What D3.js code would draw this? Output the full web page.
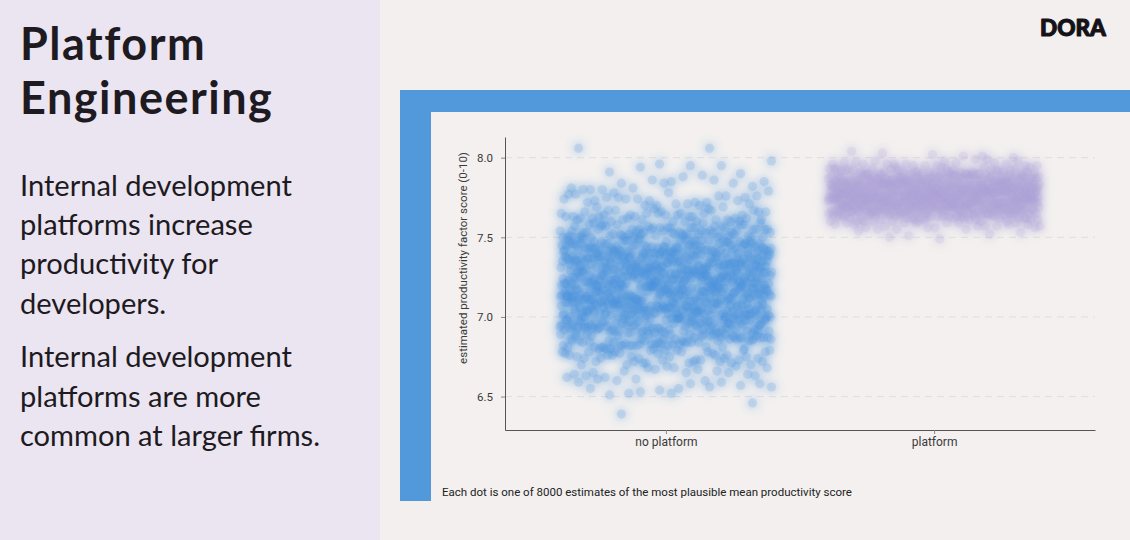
<!DOCTYPE html>
<html><head><meta charset="utf-8">
<script src="https://cdn.jsdelivr.net/npm/d3@7"></script>
<style>html,body{margin:0;padding:0;background:#f2efee;}svg{display:block;}</style>
</head><body>
<svg id="c" width="1130" height="540"></svg>
<script>
const categories = ["no platform", "platform"];
const yTicks = [6.5, 7.0, 7.5, 8.0];
const titleLines = ["Platform", "Engineering"];
const bodyLines1 = ["Internal development", "platforms increase", "productivity for", "developers."];
const bodyLines2 = ["Internal development", "platforms are more", "common at larger firms."];
const yLabel = "estimated productivity factor score (0-10)";
const footnote = "Each dot is one of 8000 estimates of the most plausible mean productivity score";
const logo = "DORA";

// estimated scores, no platform (read as a distribution from the picture)
const noPlatformScores = [
6.39,6.46,
6.52,6.55,6.59,6.53,6.56,6.58,6.51,6.57,6.54,6.59,6.56,6.52,6.58,6.55,
6.61,6.65,6.68,6.62,6.67,6.60,6.64,6.69,6.63,6.66,6.61,6.68,6.65,6.62,6.69,6.67,6.64,6.60,6.66,6.63,6.68,6.65,
6.74,6.71,6.78,6.72,6.76,6.79,6.73,6.70,6.77,6.75,6.72,6.78,6.74,6.71,6.79,6.76,6.73,6.77,6.70,6.75,
6.78,6.72,6.74,6.79,6.71,6.76,6.73,6.77,6.75,6.78,6.70,6.74,6.79,6.72,6.76,6.71,6.77,6.73,6.78,6.75,
6.79,6.74,6.76,6.72,6.78,
6.84,6.81,6.87,6.80,6.85,6.89,6.82,6.86,6.83,6.88,6.81,6.86,6.89,6.84,6.80,6.87,6.83,6.85,6.88,6.82,
6.87,6.83,6.80,6.86,6.89,6.81,6.84,6.88,6.85,6.82,6.89,6.85,6.82,6.87,6.84,6.80,6.86,6.83,6.88,6.81,
6.83,6.88,6.86,6.81,6.89,6.85,6.82,6.87,6.84,6.80,6.86,6.84,6.89,6.82,6.87,6.85,6.81,6.88,6.83,6.86,
6.88,6.82,6.85,6.89,6.84,6.87,6.83,6.86,6.89,6.85,6.87,6.84,
6.93,6.97,6.90,6.95,6.99,6.92,6.96,6.91,6.98,6.94,6.96,6.91,6.98,6.93,6.90,6.95,6.99,6.94,6.97,6.92,
6.90,6.94,6.97,6.99,6.92,6.96,6.93,6.98,6.91,6.95,6.98,6.92,6.95,6.91,6.97,6.94,6.90,6.96,6.99,6.93,
6.95,6.99,6.93,6.96,6.91,6.98,6.92,6.94,6.90,6.97,6.91,6.96,6.94,6.98,6.93,6.90,6.97,6.95,6.92,6.99,
6.97,6.93,6.99,6.92,6.95,6.91,6.98,6.90,6.94,6.96,6.94,6.98,6.91,6.97,6.99,6.93,6.95,6.92,6.96,6.90,
6.99,6.95,6.92,6.90,6.94,6.97,6.91,6.96,6.93,6.98,6.92,6.97,6.95,6.99,6.93,6.96,6.94,6.98,
7.04,7.08,7.01,7.06,7.03,7.09,7.00,7.05,7.07,7.02,7.07,7.02,7.05,7.09,7.01,7.04,7.08,7.03,7.00,7.06,
7.01,7.06,7.09,7.03,7.07,7.00,7.05,7.02,7.08,7.04,7.09,7.03,7.07,7.00,7.05,7.08,7.02,7.06,7.04,7.01,
7.05,7.00,7.03,7.08,7.02,7.06,7.09,7.04,7.01,7.07,7.02,7.07,7.04,7.01,7.09,7.03,7.06,7.08,7.05,7.00,
7.08,7.04,7.00,7.07,7.06,7.01,7.03,7.09,7.02,7.05,7.03,7.09,7.06,7.02,7.04,7.07,7.00,7.01,7.08,7.05,
7.06,7.01,7.08,7.05,7.00,7.02,7.07,7.04,7.09,7.03,7.00,7.05,7.02,7.04,7.08,7.09,7.01,7.06,7.03,7.07,
7.07,7.03,7.09,7.06,7.01,7.05,7.08,7.00,7.04,7.02,7.04,7.08,7.01,7.06,7.03,7.09,7.05,
7.13,7.17,7.10,7.15,7.19,7.12,7.16,7.11,7.18,7.14,7.16,7.11,7.18,7.13,7.10,7.15,7.19,7.14,7.17,7.12,
7.10,7.14,7.17,7.19,7.12,7.16,7.13,7.18,7.11,7.15,7.18,7.12,7.15,7.11,7.17,7.14,7.10,7.16,7.19,7.13,
7.15,7.19,7.13,7.16,7.11,7.18,7.12,7.14,7.10,7.17,7.11,7.16,7.14,7.18,7.13,7.10,7.17,7.15,7.12,7.19,
7.17,7.13,7.19,7.12,7.15,7.11,7.18,7.10,7.14,7.16,7.14,7.18,7.11,7.17,7.19,7.13,7.15,7.12,7.16,7.10,
7.19,7.15,7.12,7.10,7.14,7.17,7.11,7.16,7.13,7.18,7.12,7.17,7.15,7.19,7.13,7.16,7.14,7.18,7.10,7.11,
7.16,7.10,7.13,7.18,7.12,7.19,7.15,7.11,7.17,7.14,7.18,7.14,7.16,7.11,7.19,7.13,7.10,7.17,7.12,7.15,
7.13,7.19,7.11,7.16,
7.25,7.21,7.28,7.23,7.20,7.26,7.29,7.22,7.27,7.24,7.22,7.27,7.24,7.29,7.21,7.25,7.20,7.28,7.23,7.26,
7.28,7.20,7.26,7.22,7.24,7.29,7.23,7.21,7.25,7.27,7.21,7.24,7.29,7.26,7.27,7.20,7.22,7.25,7.28,7.23,
7.26,7.29,7.23,7.20,7.25,7.28,7.21,7.27,7.24,7.22,7.24,7.22,7.20,7.27,7.28,7.23,7.26,7.29,7.21,7.25,
7.27,7.25,7.21,7.24,7.22,7.26,7.28,7.20,7.29,7.23,7.20,7.28,7.25,7.21,7.29,7.24,7.27,7.23,7.26,7.22,
7.23,7.26,7.27,7.28,7.20,7.22,7.25,7.24,7.21,7.29,7.29,7.23,7.22,7.25,7.26,7.21,7.24,7.27,7.20,7.28,
7.26,7.21,7.28,7.23,7.24,7.27,7.29,7.22,7.25,7.20,7.22,7.27,7.24,7.29,7.21,7.25,7.20,7.28,7.23,7.26,
7.25,7.20,7.28,7.24,
7.36,7.32,7.39,7.30,7.34,7.37,7.31,7.35,7.38,7.33,7.31,7.37,7.33,7.36,7.39,7.34,7.30,7.38,7.32,7.35,
7.38,7.34,7.30,7.32,7.35,7.31,7.36,7.33,7.39,7.37,7.33,7.39,7.35,7.38,7.30,7.36,7.32,7.37,7.34,7.31,
7.35,7.30,7.38,7.34,7.31,7.33,7.39,7.32,7.37,7.36,7.37,7.33,7.31,7.39,7.36,7.38,7.34,7.30,7.35,7.32,
7.32,7.36,7.34,7.31,7.37,7.35,7.38,7.39,7.30,7.33,7.39,7.35,7.37,7.33,7.32,7.30,7.31,7.34,7.36,7.38,
7.30,7.38,7.36,7.35,7.33,7.32,7.37,7.31,7.39,7.34,7.34,7.31,7.32,7.37,7.38,7.39,7.35,7.36,7.33,7.30,
7.36,7.32,7.39,7.30,7.34,7.37,7.31,7.35,7.38,7.33,7.31,7.37,7.33,7.36,7.30,7.34,7.32,
7.43,7.47,7.40,7.45,7.41,7.48,7.42,7.46,7.44,7.49,7.41,7.45,7.43,7.40,7.47,7.42,7.44,7.46,7.48,7.41,
7.46,7.40,7.44,7.42,7.49,7.43,7.45,7.41,7.47,7.40,7.42,7.48,7.41,7.46,7.43,7.40,7.47,7.44,7.45,7.42,
7.44,7.41,7.47,7.43,7.40,7.45,7.42,7.49,7.46,7.43,7.40,7.46,7.42,7.48,7.44,7.41,7.43,7.47,7.40,7.45,
7.47,7.43,7.45,7.41,7.46,7.42,7.40,7.44,7.48,7.42,7.45,7.40,7.48,7.44,7.42,7.47,7.41,7.43,7.46,7.49,
7.41,7.44,7.46,7.40,7.43,7.45,7.42,7.48,7.41,7.44,7.43,7.47,7.40,7.42,7.45,7.41,7.46,7.44,
7.53,7.57,7.50,7.55,7.51,7.58,7.52,7.56,7.54,7.59,7.51,7.55,7.53,7.50,7.57,7.52,7.54,7.56,7.51,7.58,
7.56,7.50,7.54,7.52,7.59,7.53,7.55,7.51,7.57,7.50,7.52,7.58,7.51,7.56,7.53,7.50,7.54,7.55,7.52,7.57,
7.54,7.51,7.57,7.53,7.50,7.55,7.52,7.59,7.56,7.53,7.50,7.56,7.52,7.58,7.54,7.51,7.53,7.55,7.50,7.52,
7.57,7.53,7.55,7.51,7.54,7.52,7.50,7.56,7.58,7.51,7.55,7.53,
7.63,7.67,7.60,7.65,7.61,7.68,7.62,7.66,7.64,7.69,7.61,7.65,7.63,7.60,7.67,7.62,7.64,7.66,7.61,7.63,
7.66,7.60,7.64,7.62,7.68,7.63,7.65,7.61,7.67,7.60,7.62,7.69,7.61,7.65,7.63,7.60,7.64,7.66,7.62,7.67,
7.64,7.61,7.65,7.63,7.60,
7.73,7.77,7.70,7.75,7.71,7.78,7.72,7.76,7.74,7.79,7.71,7.75,7.73,7.70,7.77,7.72,7.74,7.76,7.71,7.73,
7.76,7.70,7.74,7.72,7.78,7.75,
7.84,7.80,7.86,7.81,7.85,7.88,7.80,7.84,7.86,7.81,7.89,7.84,7.82,7.85,7.80,
7.95,7.94,7.98,7.95,7.91,7.90,7.96,
8.06,8.06
];

// estimated scores, platform
const platformScores = [
7.50,7.53,7.49,7.54,7.52,7.51,
7.57,7.59,7.55,7.58,7.56,7.59,7.57,7.55,7.58,7.59,7.56,7.57,7.59,7.58,7.55,7.57,7.59,7.56,7.58,7.57,7.59,7.56,
7.62,7.60,7.64,7.61,7.63,7.64,7.60,7.62,7.63,7.61,7.64,7.62,7.60,7.63,7.61,7.64,7.63,7.62,7.60,7.64,
7.61,7.63,7.64,7.62,7.60,7.63,7.61,7.64,7.62,7.63,7.60,7.64,7.62,7.61,7.63,7.64,7.60,7.62,7.64,7.61,
7.63,7.62,7.64,7.60,7.63,7.61,7.64,7.62,
7.67,7.65,7.69,7.66,7.68,7.65,7.67,7.69,7.66,7.68,7.69,7.66,7.68,7.65,7.67,7.68,7.66,7.69,7.67,7.65,
7.66,7.68,7.65,7.67,7.69,7.66,7.68,7.65,7.69,7.67,7.68,7.65,7.67,7.69,7.66,7.67,7.69,7.68,7.65,7.66,
7.65,7.69,7.66,7.68,7.67,7.69,7.65,7.66,7.68,7.67,7.69,7.67,7.68,7.66,7.65,7.68,7.67,7.69,7.66,7.65,
7.66,7.68,7.69,7.65,7.67,7.66,7.68,7.65,7.69,7.67,7.68,7.66,7.65,7.67,7.69,7.68,7.66,7.67,7.65,7.69,
7.72,7.70,7.74,7.71,7.73,7.70,7.72,7.74,7.71,7.73,7.74,7.71,7.73,7.70,7.72,7.73,7.71,7.74,7.72,7.70,
7.71,7.73,7.70,7.72,7.74,7.71,7.73,7.70,7.74,7.72,7.73,7.70,7.72,7.74,7.71,7.72,7.74,7.73,7.70,7.71,
7.70,7.74,7.71,7.73,7.72,7.74,7.70,7.71,7.73,7.72,7.74,7.72,7.73,7.71,7.70,7.73,7.72,7.74,7.71,7.70,
7.71,7.73,7.74,7.70,7.72,7.71,7.73,7.70,7.74,7.72,7.73,7.71,7.70,7.72,7.74,7.73,7.71,7.72,7.70,7.74,
7.72,7.74,7.70,7.73,7.71,7.70,7.72,7.74,7.71,7.73,7.70,7.73,7.71,7.74,7.72,7.71,7.74,7.70,7.72,7.73,
7.77,7.75,7.79,7.76,7.78,7.75,7.77,7.79,7.76,7.78,7.79,7.76,7.78,7.75,7.77,7.78,7.76,7.79,7.77,7.75,
7.76,7.78,7.75,7.77,7.79,7.76,7.78,7.75,7.79,7.77,7.78,7.75,7.77,7.79,7.76,7.77,7.79,7.78,7.75,7.76,
7.75,7.79,7.76,7.78,7.77,7.79,7.75,7.76,7.78,7.77,7.79,7.77,7.78,7.76,7.75,7.78,7.77,7.79,7.76,7.75,
7.76,7.78,7.79,7.75,7.77,7.76,7.78,7.75,7.79,7.77,7.78,7.76,7.75,7.77,7.79,7.78,7.76,7.77,7.75,7.79,
7.77,7.79,7.75,7.78,7.76,7.75,7.77,7.79,7.76,7.78,7.75,7.78,7.76,7.79,7.77,7.76,7.79,7.75,7.77,7.78,
7.76,7.79,7.77,7.75,7.78,7.77,
7.82,7.80,7.84,7.81,7.83,7.80,7.82,7.84,7.81,7.83,7.84,7.81,7.83,7.80,7.82,7.83,7.81,7.84,7.82,7.80,
7.81,7.83,7.80,7.82,7.84,7.81,7.83,7.80,7.84,7.82,7.83,7.80,7.82,7.84,7.81,7.82,7.84,7.83,7.80,7.81,
7.80,7.84,7.81,7.83,7.82,7.84,7.80,7.81,7.83,7.82,7.84,7.82,7.83,7.81,7.80,7.83,7.82,7.84,7.81,7.80,
7.81,7.83,7.84,7.80,7.82,7.81,7.83,7.80,7.84,7.82,7.83,7.81,7.80,7.82,7.84,7.83,7.81,7.82,7.80,7.84,
7.82,7.84,7.80,7.83,7.81,7.80,7.82,7.84,7.81,7.83,7.80,7.83,7.81,7.84,7.82,7.81,
7.87,7.85,7.89,7.86,7.88,7.85,7.87,7.89,7.86,7.88,7.89,7.86,7.88,7.85,7.87,7.88,7.86,7.89,7.87,7.85,
7.86,7.88,7.85,7.87,7.89,7.86,7.88,7.85,7.89,7.87,7.88,7.85,7.87,7.89,7.86,7.87,7.89,7.88,7.85,7.86,
7.85,7.89,7.86,7.88,7.87,7.89,7.85,7.86,7.88,7.87,7.89,7.87,7.88,7.86,7.85,7.88,7.87,7.89,7.86,7.85,
7.86,7.88,7.87,7.85,7.86,7.88,7.85,7.87,7.86,7.88,7.85,7.87,7.86,7.85,
7.92,7.90,7.94,7.91,7.93,7.90,7.92,7.91,7.93,7.90,7.91,7.93,7.90,7.92,7.94,7.91,7.90,7.92,7.93,7.91,
7.90,7.92,7.91,7.93,7.90,7.94,7.91,7.92,7.90,7.93,7.91,7.90,7.92,7.91,7.93,7.90,7.92,7.94,7.91,7.90,
7.92,7.91,7.93,7.90,
7.96,7.98,7.95,7.97,7.99,7.96,7.95,7.97,7.98,7.96,7.95,7.97,7.99,7.96,7.95,7.98,7.96,7.97,7.95,7.96,
8.01,8.03,8.00,8.02,8.04,8.01
];

const W = 1130, H = 540;
const svg = d3.select("#c");
const chartFont = "Roboto, 'Noto Sans', sans-serif";
const slideFont = "Lato, 'Open Sans', sans-serif";

const defs = svg.append("defs");
defs.append("filter").attr("id", "soft")
  .attr("x", "-20%").attr("y", "-20%").attr("width", "140%").attr("height", "140%")
  .append("feGaussianBlur").attr("stdDeviation", 4);

// backgrounds
svg.append("rect").attr("width", W).attr("height", H).attr("fill", "#f2efee");
svg.append("rect").attr("width", 380).attr("height", H).attr("fill", "#eae5f0");
svg.append("rect").attr("x", 431).attr("y", 112).attr("width", W - 431).attr("height", 389).attr("fill", "#f3f0ef");
svg.append("rect").attr("x", 400).attr("y", 90).attr("width", W - 400).attr("height", 22).attr("fill", "#5299dc");
svg.append("rect").attr("x", 400).attr("y", 90).attr("width", 31).attr("height", 411).attr("fill", "#5299dc");

function textWidth(text, family, weight, size, spacing) {
  const t = svg.append("text").attr("font-family", family).attr("font-weight", weight)
    .attr("font-size", size).attr("letter-spacing", spacing || 0).text(text);
  const w = t.node().getComputedTextLength();
  t.remove();
  return w;
}
function fitSize(text, family, weight, target) {
  return 100 * target / textWidth(text, family, weight, 100, 0);
}

// left panel title: size chosen so the two line boxes do not overlap,
// width brought closer to the reference with a little letter spacing
const titleSize = 45;
const titleW = textWidth("Engineering", slideFont, 700, titleSize, 0);
const titleSpacing = Math.max(0, (270 - titleW) / 22);
svg.append("g").selectAll("text").data(titleLines).join("text")
  .attr("x", 20).attr("y", (d, i) => 59.5 + i * 54.5)
  .attr("font-family", slideFont).attr("font-weight", 700)
  .attr("font-size", titleSize).attr("letter-spacing", titleSpacing)
  .attr("fill", "#1e1a22").text(d => d);

const bodySize = fitSize("Internal development", slideFont, 400, 272);
svg.append("text").attr("font-family", slideFont).attr("font-size", bodySize).attr("fill", "#1e1a22")
  .selectAll("tspan").data(bodyLines1).join("tspan")
  .attr("x", 20).attr("y", (d, i) => 196 + i * 39.2).text(d => d);
svg.append("text").attr("font-family", slideFont).attr("font-size", bodySize).attr("fill", "#1e1a22")
  .selectAll("tspan").data(bodyLines2).join("tspan")
  .attr("x", 20).attr("y", (d, i) => 367 + i * 39.5).text(d => d);

// logo
const logoSize = fitSize(logo, slideFont, 900, 66);
svg.append("text").attr("x", 1040).attr("y", 36).attr("font-family", slideFont)
  .attr("font-weight", 900).attr("font-size", logoSize).attr("fill", "#141218")
  .attr("stroke", "#141218").attr("stroke-width", 1.1).attr("stroke-linejoin", "round").text(logo);

// chart
const y = d3.scaleLinear().domain([6.29, 8.13]).range([430, 137]);
const x = d3.scalePoint().domain(categories).range([505, 1095]).padding(0.6);
const jitter = d3.scaleLinear().domain([0, 1]).range([-106, 106]);
const phi = 0.6180339887;

svg.append("g").selectAll("line").data(yTicks).join("line")
  .attr("x1", 505).attr("x2", 1095)
  .attr("y1", d => y(d)).attr("y2", d => y(d))
  .attr("stroke", "#e2dddc").attr("stroke-width", 1).attr("stroke-dasharray", "7,5");

const groups = [
  { cat: categories[0], scores: noPlatformScores, color: "#4691dc", under: 0.3, top: 0.18 },
  { cat: categories[1], scores: platformScores, color: "#aca3d6", under: 0.3, top: 0.15 }
];
const cx = g => (d, i) => x(g.cat) + jitter((i * phi + 0.29) % 1);
groups.forEach(g => {
  // soft density layer from the same dots
  svg.append("g").attr("filter", "url(#soft)")
    .selectAll("circle").data(g.scores).join("circle")
    .attr("cx", cx(g)).attr("cy", d => y(d)).attr("r", 6)
    .attr("fill", g.color).attr("fill-opacity", g.under);
  // crisp dots
  svg.append("g").selectAll("circle").data(g.scores).join("circle")
    .attr("cx", cx(g)).attr("cy", d => y(d)).attr("r", 4.6)
    .attr("fill", g.color).attr("fill-opacity", g.top);
});

const ya = svg.append("g").attr("transform", "translate(505,0)")
  .call(d3.axisLeft(y).tickValues(yTicks).tickFormat(d3.format(".1f")).tickSize(4).tickSizeOuter(0).tickPadding(8));
const xa = svg.append("g").attr("transform", "translate(0,430)")
  .call(d3.axisBottom(x).tickSize(4).tickSizeOuter(0).tickPadding(3));
[ya, xa].forEach(a => {
  a.select(".domain").attr("stroke", "#555");
  a.selectAll(".tick line").attr("stroke", "#888");
  a.selectAll("text").attr("font-family", chartFont).attr("fill", "#3a3a3a");
});
ya.selectAll("text").attr("font-size", 11.5);
xa.selectAll("text").attr("font-size", 12);

svg.append("text").attr("transform", "translate(467,258) rotate(-90)")
  .attr("text-anchor", "middle").attr("font-family", chartFont).attr("font-size", 11.5)
  .attr("fill", "#3a3a3a").text(yLabel);

svg.append("text").attr("x", 442).attr("y", 496).attr("font-family", chartFont)
  .attr("font-size", 11.5).attr("fill", "#222").text(footnote);
</script>
</body></html>
